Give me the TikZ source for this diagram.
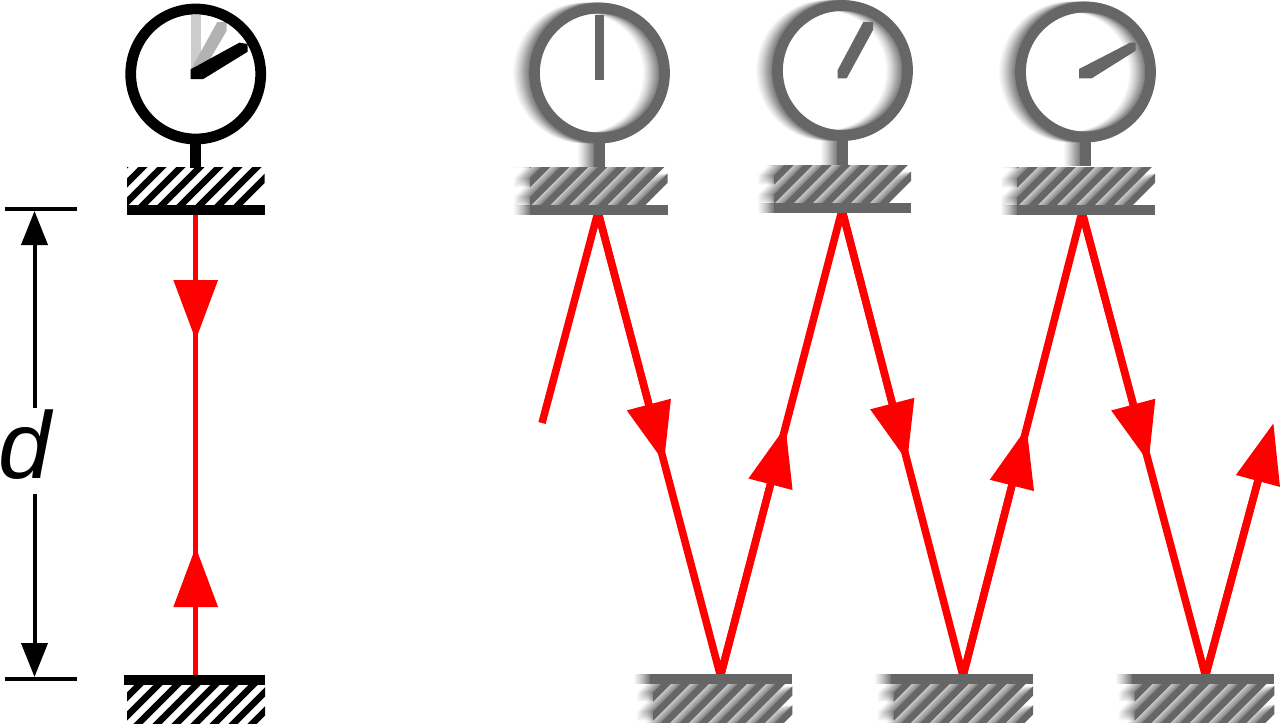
\documentclass[tikz,border=0pt]{standalone}
\usepackage{fontspec}
\setmainfont{Liberation Sans}
\usetikzlibrary{calc,
	arrows.meta}
\definecolor{dullgray}{HTML}{666666}
\tikzstyle{ringline}=[line width=0.215cm]
\tikzstyle{ray}=[draw=red, line width=0.15cm, line join=bevel]
\tikzstyle{thinray}=[draw=red, line width=0.09cm]
\tikzstyle{redhead}=[-{Triangle[length=1.2cm,width=0.87cm,red]}]
\tikzstyle{dimline}=[draw=black, line width=0.08cm]
\tikzstyle{dimhead}=[-{Triangle[length=0.68cm,width=0.52cm,black]}]
\tikzstyle{hatchline}=[line width=0.13cm]
\newcommand{\hatchbox}[6]{
	\begin{scope}
		\clip (#1,#2) rectangle (#3,#4);
		\foreach \k in {-1,...,9}
			\draw[hatchline,#6] ({#3+#5-19*\k+10},{#2-10}) -- ++(-70,70);
	\end{scope}
}
\newcommand{\gauge}[3]{
	\draw[ringline,#3] (#1,#2) circle (65);
	\fill[#3] ({#1-5.3},{#2+68}) rectangle ({#1+5.3},{#2+94});
}
\newcommand{\topmirror}[4]{
	\hatchbox{#1}{#2}{#3}{#2+38}{11.3-19}{#4}
	\fill[#4] (#1,{#2+38}) rectangle (#3,{#2+47.5});
}
\newcommand{\botmirror}[4]{
	\fill[#4] ({#1-3},#2) rectangle (#3,{#2+10});
	\hatchbox{#1}{#2+10}{#3}{#2+48.5}{7}{#4}
}
\newcommand{\blurred}[1]{
	\foreach \s in {16,...,1}{
		\pgfmathsetmacro{\blurop}{0.3*exp(-\s/5)+0.03}
		\begin{scope}[shift={(-\s,0)},opacity=\blurop]
			#1
		\end{scope}
	}
	#1
}
\begin{document}
\begin{tikzpicture}[x=0.02cm,y=-0.02cm]
	\useasboundingbox (0,0) rectangle (1280,724);

	\coordinate (dimtop) at (34.5,209);
	\coordinate (dimbot) at (34.5,679);
	\coordinate (dimup) at (34.5,408);
	\coordinate (dimdown) at (34.5,494);
	\draw[dimline] (4.5,209) -- (77,209);
	\draw[dimline] (4.5,679) -- (77,679);
	\draw[dimline,dimhead] (dimup) -- ($(dimtop)+(0,2)$);
	\draw[dimline,dimhead] (dimdown) -- ($(dimbot)+(0,-2)$);
	\node[anchor=base, inner sep=0, font=\fontsize{54}{54}\selectfont\itshape] (dlabel) at (25,478) {d};

	\coordinate (lefttop) at (195.7,212);
	\coordinate (leftbot) at (195.7,677);
	\coordinate (leftdown) at (195.7,340);
	\coordinate (leftup) at (195.7,547);
	\draw[thinray] (lefttop) -- (leftbot);
	\draw[thinray,redhead] (lefttop) -- (leftdown);
	\draw[thinray,redhead] (leftbot) -- (leftup);

	\fill[black!20] (190.7,15) rectangle (200.7,75);
	\fill[black!30] (190.7,70) -- (217.3,22) -- (226.7,22) -- (226.7,30.7) -- (200.7,75) -- cycle;
	\fill[black] (190.7,79) -- (190.7,69.3) -- (239.3,42.7) -- (247.7,44) -- (247.7,51.7) -- (203.3,79) -- cycle;
	\gauge{195.7}{74}{black}
	\topmirror{127}{167}{264.7}{black}
	\botmirror{127}{675}{265}{black}

	\coordinate (start) at (542,423);
	\coordinate (top1) at (598,212);
	\coordinate (top2) at (842,210);
	\coordinate (top3) at (1082,212);
	\coordinate (bot1) at (720.5,676);
	\coordinate (bot2) at (963,676);
	\coordinate (bot3) at (1205.5,676);
	\coordinate (end) at (1273.5,423);
	\coordinate (down1) at ($(top1)!0.54!(bot1)$);
	\coordinate (up1) at ($(bot1)!0.536!(top2)$);
	\coordinate (down2) at ($(top2)!0.54!(bot2)$);
	\coordinate (up2) at ($(bot2)!0.536!(top3)$);
	\coordinate (down3) at ($(top3)!0.54!(bot3)$);
	\draw[ray] (start) -- (top1) -- (bot1) -- (top2) -- (bot2) -- (top3) -- (bot3) -- ($(bot3)!0.8!(end)$);
	\draw[ray,redhead] (top1) -- (down1);
	\draw[ray,redhead] (bot1) -- (up1);
	\draw[ray,redhead] (top2) -- (down2);
	\draw[ray,redhead] (bot2) -- (up2);
	\draw[ray,redhead] (top3) -- (down3);
	\draw[ray,redhead] (bot3) -- (end);

	\fill[dullgray] (595,14.7) rectangle (604,80);
	\fill[dullgray] (837.7,78.3) -- (837.7,70) -- (863.3,22) -- (873,22) -- (873,30) -- (846.7,78.3) -- cycle;
	\fill[dullgray] (1079,78.3) -- (1079,69) -- (1130,42.7) -- (1135.7,42.7) -- (1135.7,50.7) -- (1091.7,78.3) -- cycle;

	\blurred{\gauge{599.5}{73}{dullgray}\topmirror{530}{167}{667.5}{dullgray}}
	\blurred{\gauge{842.5}{70.5}{dullgray}\topmirror{774}{165}{911}{dullgray}}
	\blurred{\gauge{1085.5}{72}{dullgray}\topmirror{1017}{167}{1155}{dullgray}}
	\blurred{\botmirror{653}{674}{792.3}{dullgray}}
	\blurred{\botmirror{893.7}{674}{1033}{dullgray}}
	\blurred{\botmirror{1134.7}{673.5}{1274.3}{dullgray}}
\end{tikzpicture}
\end{document}
